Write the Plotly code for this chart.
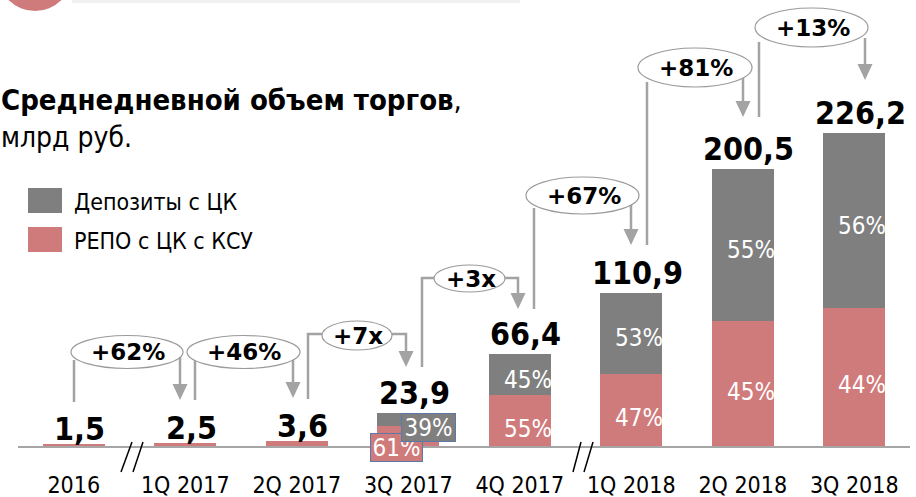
import plotly.graph_objects as go

# ---------------- data ----------------
categories = ["2016", "1Q 2017", "2Q 2017", "3Q 2017", "4Q 2017", "1Q 2018", "2Q 2018", "3Q 2018"]
totals = [1.5, 2.5, 3.6, 23.9, 66.4, 110.9, 200.5, 226.2]
repo_share = [100, 100, 100, 61, 55, 47, 45, 44]
deposit_share = [0, 0, 0, 39, 45, 53, 55, 56]
growth_labels = ["+62%", "+46%", "+7x", "+3x", "+67%", "+81%", "+13%"]
series_names = ["Депозиты с ЦК", "РЕПО с ЦК с КСУ"]
title_bold = "Среднедневной объем торгов"
title_unit = "млрд руб."

repo = [t * s / 100 for t, s in zip(totals, repo_share)]
deposits = [t * s / 100 for t, s in zip(totals, deposit_share)]
idx = list(range(len(categories)))

# ---------------- style ----------------
W, H = 916, 497
ML, MR, MT, MB = 18, 6, 0, 51
PW, PH = W - ML - MR, H - MT - MB
GRAY = "#7f7f7f"
PINK = "#d07b7b"
LINE = "#a3a3a3"
FONT = "DejaVu Sans Condensed, DejaVu Sans, sans-serif"
FONT_WIDE = "DejaVu Sans, sans-serif"
YMAX = 322.25


def px(x):
    return (x - ML) / PW


def py(y):
    return (MT + PH - y) / PH


fig = go.Figure()
fig.add_bar(x=idx, y=repo, name=series_names[1], marker_color=PINK,
            marker_line_width=0, width=0.556)
fig.add_bar(x=idx, y=deposits, name=series_names[0], marker_color=GRAY,
            marker_line_width=0, width=0.556)

annotations = []
shapes = []

# value labels
label_lift = [-2, -2, -2, 3, 3, 3, 3, 3]
for i, t in enumerate(totals):
    annotations.append(dict(x=i, y=t, xref="x", yref="y", text="<b>%s</b>" % f"{t:.1f}".replace(".", ","),
                            showarrow=False, yanchor="bottom", xanchor="center", xshift=6,
                            yshift=label_lift[i] - 4,
                            font=dict(family=FONT, size=32, color="black")))

# percentage labels inside bars (4Q 2017 onward)
for i in range(4, len(categories)):
    annotations.append(dict(x=i, y=deposits[i] / 2 + repo[i], xref="x", yref="y",
                            text=f"{deposit_share[i]}%", showarrow=False, xanchor="center", yanchor="middle",
                            xshift=8, yshift=-5,
                            font=dict(family=FONT, size=24, color="white")))
    annotations.append(dict(x=i, y=repo[i] / 2, xref="x", yref="y",
                            text=f"{repo_share[i]}%", showarrow=False, xanchor="center", yanchor="middle",
                            xshift=8, yshift=-8,
                            font=dict(family=FONT, size=24, color="white")))

# 3Q 2017 boxed labels
i3 = 3
annotations.append(dict(x=i3, y=0, xref="x", yref="y", text=f"{repo_share[i3]}%",
                        showarrow=False, xanchor="center", yanchor="middle",
                        xshift=-12, yshift=-1, width=51, height=27,
                        bgcolor=PINK, bordercolor="#5b78a8", borderwidth=1, borderpad=0,
                        font=dict(family=FONT, size=24, color="white")))
annotations.append(dict(x=i3, y=totals[i3], xref="x", yref="y", text=f"{deposit_share[i3]}%",
                        showarrow=False, xanchor="center", yanchor="top",
                        xshift=20, yshift=0, width=53, height=27,
                        bgcolor=GRAY, bordercolor="#5b78a8", borderwidth=1, borderpad=0,
                        font=dict(family=FONT, size=24, color="white")))

# growth connectors (decoration, pixel geometry)
connectors = [
    (127, 352, 56, 16.5, [(74, 360), (74, 402)], [(180, 356), (180, 400)]),
    (243.5, 352, 56.5, 16.5, [(195, 360), (195, 400)], [(293, 356), (293, 398)]),
    (357, 335.5, 35, 14.5, [(322, 334), (308, 334), (308, 399)], [(392, 334), (406, 334), (406, 367)]),
    (469.5, 278.5, 35.5, 13.5, [(434, 278), (422, 278), (422, 367)], [(505, 278), (518, 278), (518, 309)]),
    (582.5, 195.5, 56.5, 18.5, [(534, 208), (534, 309)], [(631, 202), (631, 245)]),
    (695, 67.5, 57, 19.5, [(647, 82), (647, 245)], [(743, 78), (743, 117)]),
    (811.5, 27.5, 56.5, 19.5, [(759, 42), (759, 117)], [(865, 38), (865, 80)]),
]


def path_of(pts):
    return "M " + " L ".join(f"{px(x)},{py(y)}" for x, y in pts)


for (cx, cy, rx, ry, lp, rp), lab in zip(connectors, growth_labels):
    shapes.append(dict(type="path", xref="paper", yref="paper", path=path_of(lp),
                       line=dict(color=LINE, width=2.5), layer="above"))
    tipx, tipy = rp[-1]
    rp2 = rp[:-1] + [(tipx, tipy - 14)]
    shapes.append(dict(type="path", xref="paper", yref="paper", path=path_of(rp2),
                       line=dict(color=LINE, width=2.5), layer="above"))
    tri = [(tipx - 7.5, tipy - 16), (tipx + 7.5, tipy - 16), (tipx, tipy)]
    shapes.append(dict(type="path", xref="paper", yref="paper", path=path_of(tri) + " Z",
                       fillcolor=LINE, line=dict(width=0), layer="above"))
    shapes.append(dict(type="circle", xref="paper", yref="paper",
                       x0=px(cx - rx), x1=px(cx + rx), y0=py(cy + ry), y1=py(cy - ry),
                       fillcolor="white", line=dict(color="#9a9a9a", width=1.2), layer="above"))
    annotations.append(dict(x=px(cx + 1), y=py(cy), xref="paper", yref="paper", text=f"<b>{lab}</b>",
                            showarrow=False, xanchor="center", yanchor="middle",
                            font=dict(family=FONT_WIDE, size=23, color="black")))

# axis break marks
for (x0, x1) in [(121, 132), (133, 143), (573, 581), (584, 593)]:
    shapes.append(dict(type="line", xref="paper", yref="paper", x0=px(x0), y0=py(472),
                       x1=px(x1), y1=py(442), line=dict(color="black", width=1.5), layer="above"))

# decorative header pieces
shapes.append(dict(type="circle", xref="paper", yref="paper", x0=px(-2), x1=px(72),
                   y0=py(11), y1=py(-63), fillcolor=PINK, line=dict(width=0)))
shapes.append(dict(type="rect", xref="paper", yref="paper", x0=px(72), x1=px(520),
                   y0=py(3), y1=py(-5), fillcolor="#f0f0f0", line=dict(width=0)))

# legend (manual)
for (y0, col, name) in [(188, GRAY, series_names[0]), (227, PINK, series_names[1])]:
    shapes.append(dict(type="rect", xref="paper", yref="paper", x0=px(28), x1=px(62),
                       y0=py(y0 + 25), y1=py(y0), fillcolor=col, line=dict(width=0)))
    annotations.append(dict(x=px(72), y=py(y0 + 14), xref="paper", yref="paper", text=name,
                            showarrow=False, xanchor="left", yanchor="middle",
                            font=dict(family=FONT, size=23, color="black")))

# title
annotations.append(dict(x=px(-1), y=py(100), xref="paper", yref="paper",
                        text=f"<b>{title_bold}</b>,", showarrow=False, xanchor="left", yanchor="middle",
                        font=dict(family=FONT, size=29, color="black")))
annotations.append(dict(x=px(-1), y=py(137), xref="paper", yref="paper",
                        text=title_unit, showarrow=False, xanchor="left", yanchor="middle",
                        font=dict(family=FONT, size=28, color="black")))

fig.update_layout(
    width=W, height=H, barmode="stack", showlegend=False,
    margin=dict(l=ML, r=MR, t=MT, b=MB),
    plot_bgcolor="white", paper_bgcolor="white",
    annotations=annotations, shapes=shapes,
    xaxis=dict(type="linear", range=[-0.5, 7.5], showline=True, linecolor="#a6a6a6", linewidth=2,
               tickmode="array", tickvals=idx, ticktext=categories,
               ticks="", showgrid=False, zeroline=False, ticklabelstandoff=17,
               tickfont=dict(family=FONT, size=23, color="black")),
    yaxis=dict(range=[0, YMAX], visible=False, showgrid=False, zeroline=False),
)

fig.write_html("out.html", config={"displayModeBar": False},
               post_script="document.body.style.margin='0px';document.body.style.overflow='hidden';")
